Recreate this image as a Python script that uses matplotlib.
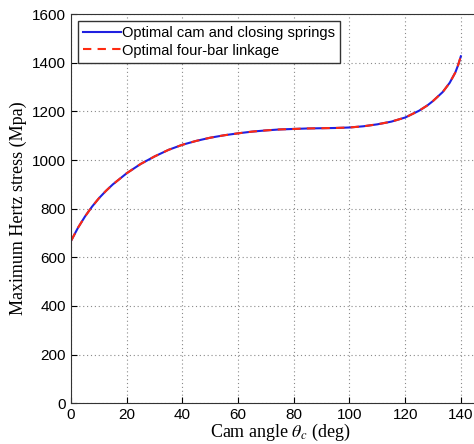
import matplotlib.pyplot as plt

plt.rcParams['mathtext.fontset'] = 'stix'

# cam angle (deg) and maximum Hertz stress (MPa) for both designs
angle = [0, 2.5, 5, 7.5, 10, 12.5, 15, 20, 25, 30, 35, 40, 45, 50, 55, 60, 65, 70, 75, 80,
         85, 90, 95, 100, 105, 110, 115, 120, 125, 128, 130, 133.5, 136, 138, 139, 140]
stress_cam = [668, 722, 768, 808, 843, 873, 900, 946, 984, 1015, 1042, 1063, 1079, 1092, 1102,
              1110, 1117, 1122, 1126, 1128, 1130, 1131, 1132, 1134, 1139, 1147, 1158, 1175,
              1203, 1225, 1243, 1280, 1318, 1360, 1390, 1427]
stress_fourbar = [668, 722, 768, 808, 843, 873, 900, 946, 984, 1015, 1042, 1063, 1079, 1092, 1102,
                  1110, 1117, 1122, 1126, 1128, 1130, 1131, 1132, 1134, 1139, 1147, 1158, 1175,
                  1203, 1225, 1243, 1280, 1318, 1360, 1390, 1427]

xticks = [0, 20, 40, 60, 80, 100, 120, 140]
yticks = [0, 200, 400, 600, 800, 1000, 1200, 1400, 1600]

fig = plt.figure(figsize=(4.74, 4.44), dpi=100)
ax = fig.add_axes([0.150, 0.092, 0.881, 0.876])

ax.plot(angle, stress_cam, color='#2020e0', lw=1.5, label='Optimal cam and closing springs')
ax.plot(angle, stress_fourbar, color='#ff2a10', lw=1.5, ls=(0, (4, 3)), label='Optimal four-bar linkage')

ax.set_xlim(0, 150)
ax.set_ylim(0, 1600)
ax.set_xticks(xticks)
ax.set_yticks(yticks)
ax.tick_params(direction='in', length=4, labelsize=11, width=0.8)
for lab in ax.get_xticklabels() + ax.get_yticklabels():
    lab.set_family('Liberation Sans')
ax.grid(True, ls=(0, (1, 2.5)), color='#8a8a8a', lw=0.8)
for s in ax.spines.values():
    s.set_color('#333333')

ax.set_xlabel(r'Cam angle $\theta_c$ (deg)', family='Liberation Serif', fontsize=13, labelpad=0)
ax.set_ylabel('Maximum Hertz stress (Mpa)', family='Liberation Serif', fontsize=13, labelpad=4)

leg = ax.legend(loc='upper left', prop={'family': 'Liberation Sans', 'size': 10.5},
                fancybox=False, framealpha=1, edgecolor='#333333', borderpad=0.35,
                handlelength=2.6, handletextpad=0.1, labelspacing=0.25, borderaxespad=0.45)

fig.savefig('out.png', dpi=100)
